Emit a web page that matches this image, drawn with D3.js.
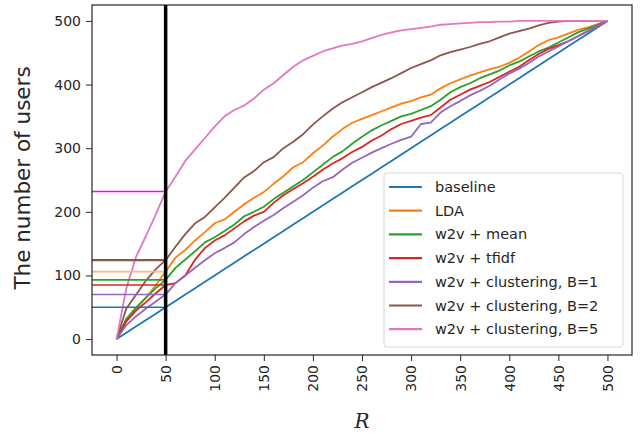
<!DOCTYPE html>
<html>
<head>
<meta charset="utf-8">
<script src="https://cdn.jsdelivr.net/npm/d3@7"></script>
<style>
  body { margin: 0; background: #fff; }
  svg text { font-family: "DejaVu Sans", sans-serif; fill: #262626; }
</style>
</head>
<body>
<svg id="chart" width="640" height="437"></svg>
<script>
// R values (x) every 10
const rValues = d3.range(0, 501, 10);
const cutoff = 50;

const baseline = rValues.slice();
const lda = [0, 30, 48, 65, 85, 106, 128, 140, 155, 168, 182, 188, 200, 212, 222, 231, 244, 256, 270, 278,
  292, 304, 318, 330, 340, 346, 352, 358, 364, 370, 374, 380, 384, 394, 402, 408, 414, 419, 424, 428,
  434, 442, 452, 462, 470, 474, 480, 486, 490, 495, 500];
const w2vMean = [0, 32, 50, 65, 80, 93, 112, 125, 138, 152, 160, 170, 180, 193, 200, 208, 220, 230, 240, 250,
  262, 274, 286, 295, 307, 318, 328, 336, 343, 350, 354, 360, 366, 376, 388, 396, 402, 410, 416, 422,
  430, 436, 444, 452, 458, 466, 474, 482, 488, 494, 500];
const w2vTfidf = [0, 28, 45, 58, 72, 85, 88, 100, 125, 143, 155, 163, 174, 185, 194, 200, 214, 226, 236, 245,
  255, 266, 276, 284, 294, 302, 312, 320, 330, 338, 343, 348, 352, 364, 376, 384, 392, 398, 404, 412,
  420, 428, 438, 448, 456, 462, 468, 476, 484, 492, 500];
const clusterB1 = [0, 22, 36, 48, 59, 70, 88, 100, 112, 124, 135, 143, 152, 165, 176, 186, 195, 206, 216, 226,
  238, 248, 254, 266, 277, 285, 293, 300, 307, 313, 318, 338, 340, 356, 366, 374, 383, 390, 398, 408,
  417, 425, 434, 444, 452, 460, 468, 476, 484, 492, 500];
const clusterB2 = [0, 48, 70, 92, 110, 124, 145, 165, 182, 192, 207, 222, 238, 254, 264, 278, 286, 300, 310, 322,
  337, 350, 362, 372, 380, 388, 396, 403, 410, 418, 426, 432, 438, 446, 451, 455, 459, 464, 468, 474,
  480, 484, 488, 493, 497, 499, 500, 500, 500, 500, 500];
const clusterB5 = [0, 80, 130, 162, 196, 232, 255, 280, 298, 316, 334, 350, 360, 367, 378, 392, 402, 415, 428, 438,
  445, 452, 457, 461, 464, 468, 473, 478, 482, 485, 487, 489, 491, 494, 495, 496, 497, 498, 498, 499,
  499, 500, 500, 500, 500, 500, 500, 500, 500, 500, 500];

const seriesNames = ['baseline', 'LDA', 'w2v + mean', 'w2v + tfidf',
  'w2v + clustering, B=1', 'w2v + clustering, B=2', 'w2v + clustering, B=5'];
const seriesValues = [baseline, lda, w2vMean, w2vTfidf, clusterB1, clusterB2, clusterB5];
const colors = ['#1f77b4', '#ff7f0e', '#2ca02c', '#d62728', '#9467bd', '#8c564b', '#e377c2'];
const cutoffColors = ['#1f77b4', '#ffbb78', '#2ca02c', '#d62728', '#9467bd', '#8c564b', '#ff00ff'];

const xTicks = d3.range(0, 501, 50);
const yTicks = d3.range(0, 501, 100);

const svg = d3.select('#chart');
const margin = { top: 5, right: 8, bottom: 82, left: 92 };
const width = +svg.attr('width') - margin.left - margin.right;
const height = +svg.attr('height') - margin.top - margin.bottom;
const g = svg.append('g').attr('transform', `translate(${margin.left}, ${margin.top})`);

const x = d3.scaleLinear().domain([-25, 525]).range([0, width]);
const y = d3.scaleLinear().domain([-25, 525]).range([height, 0]);

const line = d3.line()
    .x((d, i) => x(rValues[i]))
    .y((d) => y(d));

seriesValues.forEach((vals, i) => {
  g.append('path')
      .datum(vals)
      .attr('fill', 'none')
      .attr('stroke', colors[i])
      .attr('stroke-width', 1.8)
      .attr('stroke-linejoin', 'round')
      .attr('d', line);
});

// levels reached at the cutoff
const cutIdx = rValues.indexOf(cutoff);
seriesValues.forEach((vals, i) => {
  g.append('line')
      .attr('x1', 0)
      .attr('x2', x(cutoff))
      .attr('y1', y(vals[cutIdx]))
      .attr('y2', y(vals[cutIdx]))
      .attr('stroke', cutoffColors[i])
      .attr('stroke-width', i === 5 ? 2.2 : 1.6);
});

g.append('line')
    .attr('x1', x(cutoff))
    .attr('x2', x(cutoff))
    .attr('y1', 0)
    .attr('y2', height)
    .attr('stroke', '#000')
    .attr('stroke-width', 3.5);

// axes
const xAxis = g.append('g')
    .attr('transform', `translate(0, ${height})`)
    .call(d3.axisBottom(x).tickValues(xTicks).tickSize(6).tickPadding(4));
xAxis.selectAll('text')
    .attr('transform', 'rotate(-90)')
    .attr('x', -10)
    .attr('y', 0)
    .attr('dy', '0.35em')
    .style('text-anchor', 'end');

const yAxis = g.append('g')
    .call(d3.axisLeft(y).tickValues(yTicks).tickSize(6).tickPadding(5));

[xAxis, yAxis].forEach((ax) => {
  ax.select('.domain').remove();
  ax.selectAll('line').attr('stroke', '#262626').attr('stroke-width', 1);
  ax.selectAll('text').style('font-size', '14px').attr('fill', '#262626');
});

g.append('rect')
    .attr('width', width)
    .attr('height', height)
    .attr('fill', 'none')
    .attr('stroke', '#262626')
    .attr('stroke-width', 1.2);

svg.append('text')
    .attr('transform', `translate(30, ${margin.top + height / 2 - 2}) rotate(-90)`)
    .attr('text-anchor', 'middle')
    .style('font-size', '21.5px')
    .text('The number of users');

svg.append('text')
    .attr('x', margin.left + x(250))
    .attr('y', 428)
    .attr('text-anchor', 'middle')
    .style('font-family', '"DejaVu Serif", serif')
    .style('font-style', 'italic')
    .style('font-size', '20px')
    .text('R');

// legend
const legend = g.append('g').attr('transform', `translate(${384 - margin.left}, ${173 - margin.top})`);
legend.append('rect')
    .attr('width', 239)
    .attr('height', 174)
    .attr('rx', 3)
    .attr('fill', '#fff')
    .attr('fill-opacity', 0.85)
    .attr('stroke', '#d8d8d8');
seriesNames.forEach((name, i) => {
  const row = legend.append('g').attr('transform', `translate(0, ${14 + i * 23.7})`);
  row.append('line')
      .attr('x1', 5).attr('x2', 38)
      .attr('stroke', colors[i])
      .attr('stroke-width', 2.2);
  row.append('text')
      .attr('x', 51)
      .attr('dy', '0.35em')
      .style('font-size', '14.5px')
      .text(name);
});
</script>
</body>
</html>
